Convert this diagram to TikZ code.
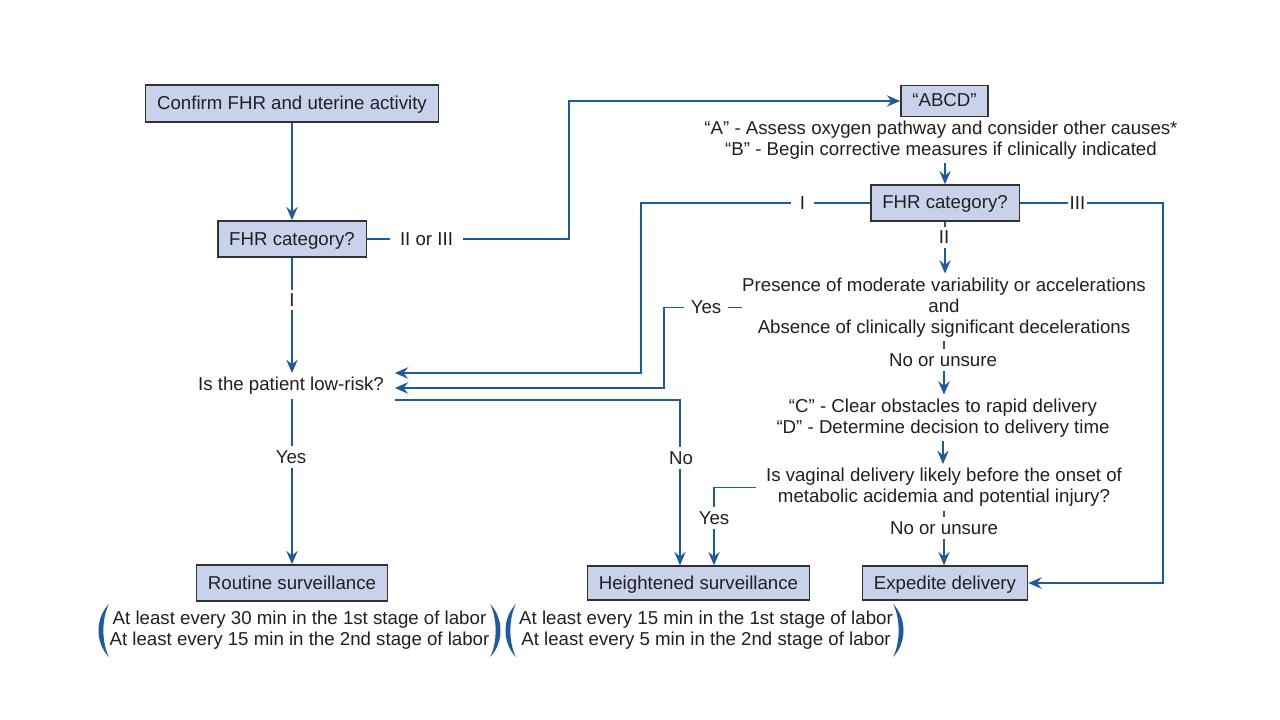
\documentclass[tikz,border=0pt]{standalone}
\usepackage{fontspec}
\setmainfont{Liberation Sans}
\usetikzlibrary{arrows.meta,calc}
\definecolor{lc}{RGB}{30,90,160}
\definecolor{bfill}{RGB}{200,210,235}
\definecolor{bdraw}{RGB}{50,50,50}
\definecolor{tc}{RGB}{35,31,32}
\begin{document}
\begin{tikzpicture}[x=0.75pt,y=-0.75pt,
  every node/.style={font=\fontsize{14}{15.75}\selectfont, text=tc},
  box/.style={draw=bdraw, fill=bfill, line width=1.1pt, inner xsep=8.6pt, minimum height=27pt, text height=10pt, text depth=1pt},
  txt/.style={inner xsep=0pt, inner ysep=3pt, align=center},
  lbl/.style={fill=white, inner xsep=#1, inner ysep=3pt},
  lbl/.default=2pt,
  conn/.style={draw=lc, line width=1.4pt},
  arr/.style={conn, -{Stealth[length=10pt,width=8.5pt,inset=3.5pt]}},
  paren/.style={fill=lc, draw=none},
]
\fill[white] (0,0) rectangle (1280,720);
\path[use as bounding box] (0,0) rectangle (1280,720);

% nodes
\node[box, minimum height=27.75pt] (confirm) at (292,103.5) {Confirm FHR and uterine activity};
\node[box] (cat1) at (292,239) {FHR category?};
\node[box, minimum height=23.25pt] (abcd) at (944.5,101) {“ABCD”};
\node[txt] (ab) at (941,140) {“A” - Assess oxygen pathway and consider other causes*\\“B” - Begin corrective measures if clinically indicated};
\node[box] (cat2) at (945,203) {FHR category?};
\node[txt] (pres) at (944,307.5) {Presence of moderate variability or accelerations\\and\\Absence of clinically significant decelerations};
\node[txt] (cd) at (943,418) {“C” - Clear obstacles to rapid delivery\\“D” - Determine decision to delivery time};
\node[txt, inner xsep=7.5pt] (vag) at (944,487.5) {Is vaginal delivery likely before the onset of\\metabolic acidemia and potential injury?};
\node[txt, inner xsep=8pt] (low) at (291,386) {Is the patient low-risk?};
\node[box] (routine) at (292,583) {Routine surveillance};
\node[box, minimum height=25.5pt] (height) at (698.5,583) {Heightened surveillance};
\node[box, minimum height=25.5pt] (exp) at (945,583) {Expedite delivery};
\node[txt] (rnote) at (299.5,630.5) {At least every 30 min in the 1st stage of labor\\At least every 15 min in the 2nd stage of labor};
\node[txt] (hnote) at (706,630.5) {At least every 15 min in the 1st stage of labor\\At least every 5 min in the 2nd stage of labor};

% connectors
\draw[arr] (confirm.south) -- (cat1.north);
\draw[arr] (cat1.east) -- (569,239) |- (abcd.west);
\draw[arr] (ab.south -| cat2.north) -- (cat2.north);
\draw[arr] (cat2.south) -- (cat2.south |- pres.north);
\draw[arr] (cat2.west) -- (641,203) |- ([yshift=9.75pt]low.east);
\draw[arr] (cat2.east) -- (1163,203) |- (exp.east);
\draw[arr] (pres.west) -- (664,307.5) |- ([yshift=-1.5pt]low.east);
\draw[arr] (pres.south) -- (pres.south |- cd.north);
\draw[arr] (cd.south) -- (cd.south |- vag.north);
\draw[arr] (vag.south) -- (vag.south |- exp.north);
\draw[arr] (vag.west) -| ([xshift=11.6pt]height.north);
\draw[arr] (cat1.south) -- (cat1.south |- low.north);
\draw[arr] (low.south -| routine.north) -- (routine.north);
\draw[arr] ([yshift=-10.5pt]low.east) -| ([xshift=-13.9pt]height.north);

% labels
\node[lbl=7.5pt] (l1) at (426.5,239) {II or III};
\node[lbl] (l2) at (944,237.5) {II};
\node[lbl=7pt] (l3) at (802.5,203) {I};
\node[lbl=1.5pt] (l4) at (1077.5,203) {III};
\node[lbl=5pt] (l5) at (706,307.5) {Yes};
\node[lbl] (l6) at (943,360) {No or unsure};
\node[lbl] (l7) at (944,528) {No or unsure};
\node[lbl] (l8) at (714,518) {Yes};
\node[lbl] (l9) at (292,300) {I};
\node[lbl] (l10) at (291,457) {Yes};
\node[lbl] (l11) at (681,458) {No};

% parentheses
\fill[paren] (109,604) .. controls (95,618) and (95,643) .. (109,657) .. controls (101.5,643) and (101.5,618) .. (109,604) -- cycle;
\fill[paren] (490,604) .. controls (504,618) and (504,643) .. (490,657) .. controls (497.5,643) and (497.5,618) .. (490,604) -- cycle;
\fill[paren] (516,604) .. controls (502,618) and (502,643) .. (516,657) .. controls (508.5,643) and (508.5,618) .. (516,604) -- cycle;
\fill[paren] (893,604) .. controls (907,618) and (907,643) .. (893,657) .. controls (900.5,643) and (900.5,618) .. (893,604) -- cycle;
\end{tikzpicture}
\end{document}
